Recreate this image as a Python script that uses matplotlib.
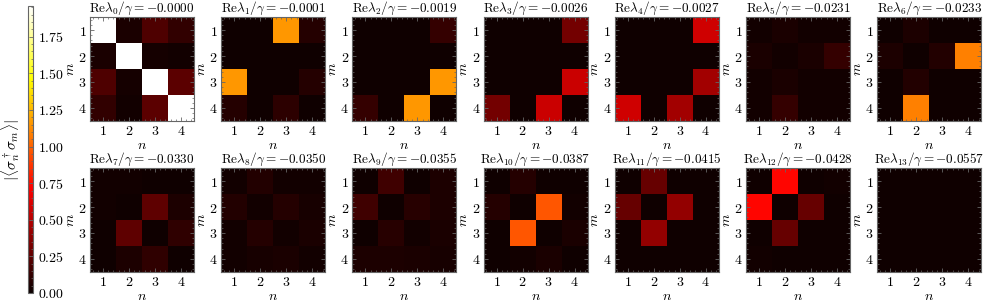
import numpy as np
import matplotlib
matplotlib.use("Agg")
import matplotlib.pyplot as plt
from matplotlib.ticker import AutoMinorLocator

plt.rcParams['mathtext.fontset'] = 'cm'
plt.rcParams['font.family'] = 'serif'
plt.rcParams['font.serif'] = ['DejaVu Serif']

# real parts of the eigenvalues, Re(lambda_k)/gamma
re_lambda = [-0.00002, -0.0001, -0.0019, -0.0026, -0.0027, -0.0231, -0.0233,
             -0.0330, -0.0350, -0.0355, -0.0387, -0.0415, -0.0428, -0.0557]

# |<sigma_n^dagger sigma_m>| for each eigenmode, rows = m, cols = n
m0 = [[1.96, 0.05, 0.20, 0.12],
      [0.05, 1.96, 0.035, 0.03],
      [0.20, 0.035, 1.96, 0.24],
      [0.12, 0.03, 0.24, 1.96]]
m1 = [[0.02, 0.02, 1.16, 0.08],
      [0.02, 0.02, 0.02, 0.02],
      [1.16, 0.02, 0.02, 0.08],
      [0.08, 0.02, 0.10, 0.02]]
m2 = [[0.02, 0.02, 0.02, 0.13],
      [0.02, 0.02, 0.02, 0.02],
      [0.02, 0.02, 0.02, 1.16],
      [0.13, 0.02, 1.16, 0.02]]
m3 = [[0.02, 0.02, 0.02, 0.31],
      [0.02, 0.02, 0.02, 0.02],
      [0.02, 0.02, 0.02, 0.56],
      [0.31, 0.02, 0.56, 0.02]]
m4 = [[0.02, 0.02, 0.02, 0.58],
      [0.02, 0.02, 0.02, 0.02],
      [0.02, 0.02, 0.02, 0.45],
      [0.58, 0.02, 0.45, 0.02]]
m5 = [[0.03, 0.05, 0.03, 0.03],
      [0.05, 0.03, 0.05, 0.13],
      [0.03, 0.05, 0.03, 0.03],
      [0.03, 0.13, 0.03, 0.03]]
m6 = [[0.02, 0.06, 0.02, 0.02],
      [0.06, 0.02, 0.07, 1.09],
      [0.02, 0.07, 0.02, 0.02],
      [0.02, 1.09, 0.02, 0.02]]
m7 = [[0.03, 0.03, 0.02, 0.02],
      [0.03, 0.02, 0.25, 0.06],
      [0.02, 0.25, 0.02, 0.11],
      [0.02, 0.06, 0.11, 0.02]]
m8 = [[0.03, 0.07, 0.03, 0.03],
      [0.07, 0.03, 0.08, 0.04],
      [0.03, 0.08, 0.03, 0.05],
      [0.03, 0.04, 0.05, 0.03]]
m9 = [[0.02, 0.16, 0.02, 0.06],
      [0.16, 0.02, 0.09, 0.06],
      [0.02, 0.09, 0.03, 0.05],
      [0.06, 0.06, 0.05, 0.04]]
m10 = [[0.02, 0.08, 0.02, 0.02],
       [0.08, 0.02, 0.965, 0.03],
       [0.02, 0.965, 0.02, 0.05],
       [0.02, 0.03, 0.05, 0.02]]
m11 = [[0.02, 0.27, 0.02, 0.02],
       [0.27, 0.02, 0.40, 0.02],
       [0.02, 0.40, 0.02, 0.02],
       [0.02, 0.02, 0.02, 0.02]]
m12 = [[0.02, 0.73, 0.02, 0.03],
       [0.73, 0.02, 0.27, 0.02],
       [0.02, 0.27, 0.02, 0.02],
       [0.03, 0.02, 0.02, 0.02]]
m13 = [[0.02, 0.02, 0.02, 0.02],
       [0.02, 0.02, 0.02, 0.02],
       [0.02, 0.02, 0.02, 0.02],
       [0.02, 0.02, 0.02, 0.02]]
mats = [m0, m1, m2, m3, m4, m5, m6, m7, m8, m9, m10, m11, m12, m13]

sites = [1, 2, 3, 4]
cbar_ticks = [0.0, 0.25, 0.5, 0.75, 1.0, 1.25, 1.5, 1.75]
vmax = 1.96

W, H = 987, 302
fig = plt.figure(figsize=(W / 100, H / 100), dpi=100)
frame = '#666666'

im = None
for k, mat in enumerate(mats):
    row, col = divmod(k, 7)
    left = (90 + 131.2 * col) / W
    top = [17, 168][row]
    ax = fig.add_axes([left, 1 - (top + 104) / H, 104 / W, 104 / H])
    im = ax.imshow(np.array(mat), cmap='hot', vmin=0, vmax=vmax, aspect='auto',
                   extent=(0.5, 4.5, 4.5, 0.5), interpolation='nearest')
    ax.set_xticks(sites)
    ax.set_yticks(sites)
    ax.set_xticklabels(['$%d$' % s for s in sites], fontsize=10)
    ax.set_yticklabels(['$%d$' % s for s in sites], fontsize=10)
    ax.xaxis.set_minor_locator(AutoMinorLocator(5))
    ax.yaxis.set_minor_locator(AutoMinorLocator(5))
    ax.tick_params(which='both', direction='in', top=True, right=True,
                   color=frame, pad=2.5)
    ax.tick_params(which='major', length=3, width=0.6)
    ax.tick_params(which='minor', length=1.5, width=0.5)
    for sp in ax.spines.values():
        sp.set_color(frame)
        sp.set_linewidth(0.8)
    ax.set_xlabel('$n$', fontsize=10, labelpad=0)
    ax.set_ylabel('$m$', fontsize=10, labelpad=1)
    val = ('%.4f' % re_lambda[k]).replace('-', '{-}')
    ax.set_title(r'$\mathrm{Re}\lambda_{%d}/\gamma = %s$' % (k, val),
                 fontsize=9.5, pad=2)

cax = fig.add_axes([28 / W, 1 - 293 / H, 5.5 / W, 287 / H])
cb = fig.colorbar(im, cax=cax)
cb.set_ticks(cbar_ticks)
cb.set_ticklabels(['$%.2f$' % t for t in cbar_ticks])
cax.yaxis.set_minor_locator(AutoMinorLocator(5))
cax.tick_params(which='both', direction='in', color=frame, labelsize=10)
cax.tick_params(which='major', length=3, width=0.6)
cax.tick_params(which='minor', length=1.5, width=0.5)
cb.outline.set_edgecolor(frame)
cb.outline.set_linewidth(0.8)
cax.yaxis.set_label_position('left')
cb.set_label(r'$|\langle\sigma_n^\dagger\sigma_m\rangle|$', fontsize=11, labelpad=4)

fig.savefig('out.png', dpi=100)
